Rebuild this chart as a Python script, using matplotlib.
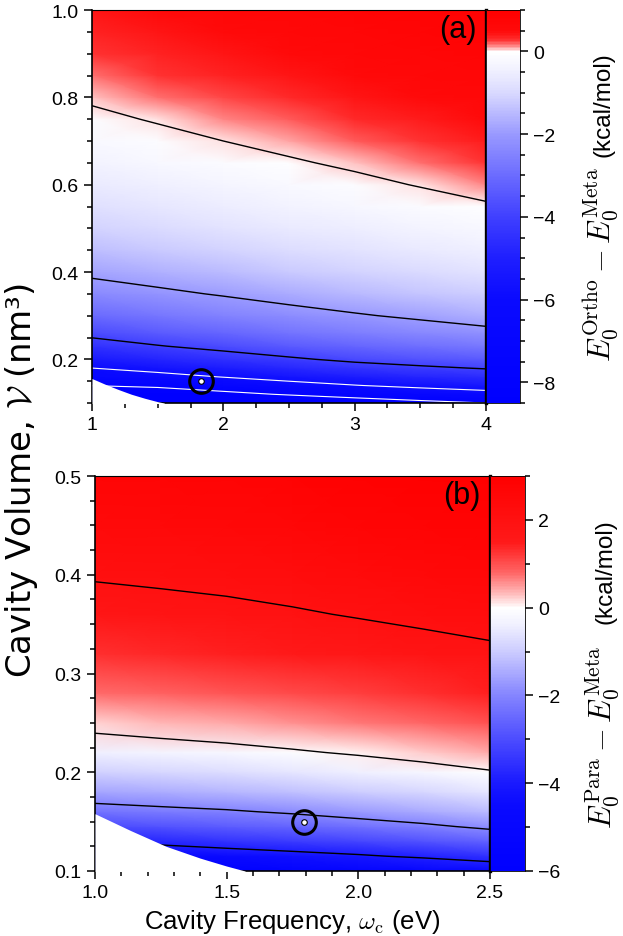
import numpy as np
import matplotlib
matplotlib.use("Agg")
import matplotlib.pyplot as plt
from matplotlib.colors import LinearSegmentedColormap, Normalize
from matplotlib.ticker import MultipleLocator, FormatStrFormatter

plt.rcParams['font.family'] = ['Liberation Sans', 'DejaVu Sans']
plt.rcParams['mathtext.fontset'] = 'cm'

# ---- panel (a): E0(Ortho) - E0(Meta), kcal/mol ----
freq_a = [1.0, 1.5, 2.0, 2.5, 3.0, 3.5, 4.0]
vol_a = [0.10, 0.12, 0.14, 0.16, 0.18, 0.20, 0.23, 0.26, 0.30, 0.35,
         0.40, 0.45, 0.50, 0.55, 0.60, 0.65, 0.70, 0.75, 0.80, 0.85,
         0.90, 0.95, 1.00]
dE_a = [  # rows follow vol_a, columns follow freq_a
    [-11.56, -11.48, -10.50, -9.73, -9.03, -8.46, -8.00],
    [-9.47, -9.24, -8.48, -7.84, -7.29, -6.84, -6.48],
    [-7.98, -7.65, -7.04, -6.49, -6.05, -5.69, -5.39],
    [-6.87, -6.45, -5.95, -5.50, -5.12, -4.82, -4.58],
    [-6.00, -5.55, -5.14, -4.74, -4.39, -4.15, -3.94],
    [-5.28, -4.86, -4.49, -4.13, -3.81, -3.59, -3.38],
    [-4.43, -4.05, -3.72, -3.41, -3.13, -2.92, -2.72],
    [-3.76, -3.41, -3.12, -2.85, -2.60, -2.41, -2.21],
    [-3.04, -2.76, -2.51, -2.28, -2.07, -1.87, -1.67],
    [-2.37, -2.15, -1.94, -1.72, -1.51, -1.33, -1.16],
    [-1.85, -1.65, -1.46, -1.26, -1.08, -0.93, -0.77],
    [-1.43, -1.25, -1.08, -0.91, -0.75, -0.61, -0.47],
    [-1.09, -0.93, -0.78, -0.63, -0.49, -0.36, -0.23],
    [-0.82, -0.67, -0.53, -0.40, -0.27, -0.15, -0.04],
    [-0.59, -0.45, -0.32, -0.20, -0.09, 0.02, 0.13],
    [-0.39, -0.26, -0.15, -0.04, 0.06, 0.17, 0.26],
    [-0.22, -0.11, 0.00, 0.10, 0.19, 0.29, 0.38],
    [-0.08, 0.03, 0.13, 0.22, 0.31, 0.40, 0.49],
    [0.05, 0.15, 0.24, 0.33, 0.41, 0.49, 0.58],
    [0.16, 0.26, 0.34, 0.42, 0.50, 0.58, 0.65],
    [0.26, 0.35, 0.43, 0.51, 0.57, 0.65, 0.73],
    [0.35, 0.44, 0.51, 0.58, 0.64, 0.72, 0.79],
    [0.43, 0.51, 0.58, 0.65, 0.71, 0.78, 0.84],
]
levels_a = [-8, -6, -4, -2, 0]
# region without a solution (lower left corner)
edge_freq_a = [1.0, 1.1, 1.2, 1.3, 1.4, 1.5, 1.55]
edge_vol_a = [0.156, 0.143, 0.131, 0.120, 0.111, 0.103, 0.100]
mark_a = (1.83, 0.150)

# ---- panel (b): E0(Para) - E0(Meta), kcal/mol ----
freq_b = [1.0, 1.25, 1.5, 1.75, 2.0, 2.25, 2.5]
vol_b = [0.10, 0.115, 0.13, 0.145, 0.16, 0.18, 0.20, 0.22, 0.25, 0.28,
         0.32, 0.36, 0.40, 0.45, 0.50]
dE_b = [
    [-6.50, -6.20, -5.85, -5.60, -5.38, -5.10, -4.77],
    [-5.05, -4.81, -4.54, -4.32, -4.11, -3.85, -3.55],
    [-3.93, -3.74, -3.53, -3.34, -3.13, -2.89, -2.61],
    [-3.05, -2.89, -2.73, -2.56, -2.35, -2.13, -1.86],
    [-2.33, -2.20, -2.08, -1.91, -1.70, -1.49, -1.24],
    [-1.55, -1.43, -1.32, -1.16, -0.98, -0.80, -0.58],
    [-0.92, -0.81, -0.70, -0.56, -0.41, -0.24, -0.05],
    [-0.41, -0.30, -0.20, -0.07, 0.07, 0.23, 0.42],
    [0.22, 0.33, 0.43, 0.55, 0.68, 0.82, 0.98],
    [0.75, 0.84, 0.93, 1.04, 1.16, 1.28, 1.42],
    [1.30, 1.37, 1.45, 1.55, 1.66, 1.77, 1.88],
    [1.72, 1.78, 1.85, 1.94, 2.04, 2.14, 2.24],
    [2.06, 2.12, 2.18, 2.26, 2.35, 2.44, 2.53],
    [2.40, 2.45, 2.50, 2.57, 2.66, 2.74, 2.82],
    [2.67, 2.71, 2.76, 2.82, 2.91, 2.98, 3.04],
]
levels_b = [-4, -2, 0, 2]
edge_freq_b = [1.0, 1.135, 1.27, 1.4, 1.5, 1.57]
edge_vol_b = [0.158, 0.141, 0.125, 0.113, 0.105, 0.100]
mark_b = (1.794, 0.150)


def make_cmap(vmin, vmax, nodes):
    pos = [((v - vmin) / (vmax - vmin), c) for v, c in nodes]
    return LinearSegmentedColormap.from_list('bwr_custom', pos)


cmap_a = make_cmap(-8.5, 1.0, [
    (-8.5, (0.0, 0.0, 1.0)), (-6, (0.04, 0.04, 1.0)), (-5, (0.12, 0.12, 1.0)),
    (-4, (0.25, 0.25, 1.0)), (-3, (0.42, 0.42, 1.0)), (-2, (0.6, 0.6, 1.0)),
    (-1, (0.85, 0.85, 1.0)), (-0.4, (0.95, 0.95, 1.0)), (0, (1, 1, 1)),
    (0.05, (1, 0.82, 0.82)), (0.15, (1, 0.5, 0.5)), (0.3, (1, 0.18, 0.18)),
    (0.5, (1, 0.04, 0.04)), (1.0, (1, 0, 0))])
cmap_b = make_cmap(-6.0, 3.0, [
    (-6, (0.0, 0.0, 1.0)), (-4.5, (0.04, 0.04, 1.0)), (-4, (0.1, 0.1, 1.0)),
    (-3, (0.3, 0.3, 1.0)), (-2, (0.52, 0.52, 1.0)), (-1, (0.8, 0.8, 1.0)),
    (-0.4, (0.94, 0.94, 1.0)), (0, (1, 1, 1)), (0.3, (1, 0.75, 0.75)),
    (0.8, (1, 0.4, 0.4)), (1.5, (1, 0.1, 0.1)), (3.0, (1, 0, 0))])

FIG_W, FIG_H = 623, 937
fig = plt.figure(figsize=(FIG_W / 100, FIG_H / 100), dpi=100)


def panel(box, cbox, freq, vol, dE, levels, lcolors, lwidths, edge_f, edge_v,
          mark, cmap, vmin, vmax, tag, xlim, ylim, xmaj, xmin_, ymaj, ymin_,
          cticks, cminor, lab_math, lab_x):
    # box = (left, top, right, bottom) in pixels from the top-left corner
    l, t, r, b = box
    ax = fig.add_axes([l / FIG_W, 1 - b / FIG_H, (r - l) / FIG_W, (b - t) / FIG_H])
    cax = fig.add_axes([r / FIG_W, 1 - b / FIG_H, (cbox - r) / FIG_W, (b - t) / FIG_H])
    W, V = np.meshgrid(freq, vol)
    Z = np.array(dE)
    norm = Normalize(vmin=vmin, vmax=vmax)
    m = ax.pcolormesh(W, V, Z, shading='gouraud', cmap=cmap, norm=norm, zorder=1)
    ax.contour(W, V, Z, levels=levels, colors=lcolors, linewidths=lwidths, zorder=2)
    ax.fill_between(edge_f, ylim[0] - 0.01, edge_v, color='white', lw=0, zorder=3)
    ax.plot(mark[0], mark[1], 'o', mfc='none', mec='k', ms=17, mew=2.2, zorder=5)
    ax.plot(mark[0], mark[1], 'o', mfc='white', mec='k', ms=4, mew=0.8, zorder=5)
    ax.set_xlim(xlim)
    ax.set_ylim(ylim)
    ax.xaxis.set_major_locator(MultipleLocator(xmaj))
    ax.xaxis.set_minor_locator(MultipleLocator(xmin_))
    ax.yaxis.set_major_locator(MultipleLocator(ymaj))
    ax.yaxis.set_minor_locator(MultipleLocator(ymin_))
    ax.tick_params(which='both', direction='out', labelsize=14, width=1.1)
    ax.tick_params(which='major', length=6)
    ax.tick_params(which='minor', length=3.5)
    for s in ['left', 'bottom']:
        ax.spines[s].set_linewidth(1.2)
    ax.spines['top'].set_linewidth(0.8)
    ax.spines['right'].set_linewidth(2.4)
    ax.spines['right'].set_zorder(6)
    ax.text(0.975, 0.99, tag, transform=ax.transAxes, ha='right', va='top',
            fontsize=22, zorder=6)

    cb = fig.colorbar(m, cax=cax)
    cb.set_ticks(cticks)
    cb.ax.yaxis.set_minor_locator(MultipleLocator(cminor))
    cb.ax.tick_params(which='both', direction='out', labelsize=14, width=1.1)
    cb.ax.tick_params(which='major', length=6)
    cb.ax.tick_params(which='minor', length=3.5)
    cb.outline.set_linewidth(0.6)

    # colour bar title: large math part, smaller units part
    mid = (t + b) / 2
    fig.text(lab_x / FIG_W, 1 - (mid + 155) / FIG_H, lab_math, rotation=90,
             ha='center', va='bottom', fontsize=22)
    fig.text((lab_x + 2) / FIG_W, 1 - (mid - 155) / FIG_H, '(kcal/mol)', rotation=90,
             ha='center', va='top', fontsize=17.5)
    return ax


ax_a = panel((92, 11, 486, 404), 520,
             freq_a, vol_a, dE_a, levels_a,
             ['white', 'white', 'k', 'k', 'k'], [0.8, 0.8, 1.0, 1.0, 1.0],
             edge_freq_a, edge_vol_a, mark_a, cmap_a, -8.5, 1.0, '(a)',
             (1, 4), (0.1, 1.0), 1, 0.25, 0.2, 0.05,
             [-8, -6, -4, -2, 0], 0.5,
             r'$E_0^{\mathrm{Ortho}} - E_0^{\mathrm{Meta}}$', 601)

ax_b = panel((95, 477, 490, 872), 525,
             freq_b, vol_b, dE_b, levels_b,
             ['k', 'k', 'k', 'k'], [1.0, 1.0, 1.0, 1.0],
             edge_freq_b, edge_vol_b, mark_b, cmap_b, -6.0, 3.0, '(b)',
             (1, 2.5), (0.1, 0.5), 0.5, 0.1, 0.1, 0.025,
             [-6, -4, -2, 0, 2], 1.0,
             r'$E_0^{\mathrm{Para}} - E_0^{\mathrm{Meta}}$', 603)
ax_b.xaxis.set_major_formatter(FormatStrFormatter('%.1f'))
ax_b.set_xlabel(r'Cavity Frequency, $\omega_{\mathrm{c}}$ (eV)', fontsize=18.5, labelpad=4)

fig.text(22 / FIG_W, 0.487, r'Cavity Volume, $\mathcal{V}$ (nm³)', rotation=90,
         ha='center', va='center', fontsize=24.5, family=['DejaVu Sans'])

fig.savefig('out.png', dpi=100)
